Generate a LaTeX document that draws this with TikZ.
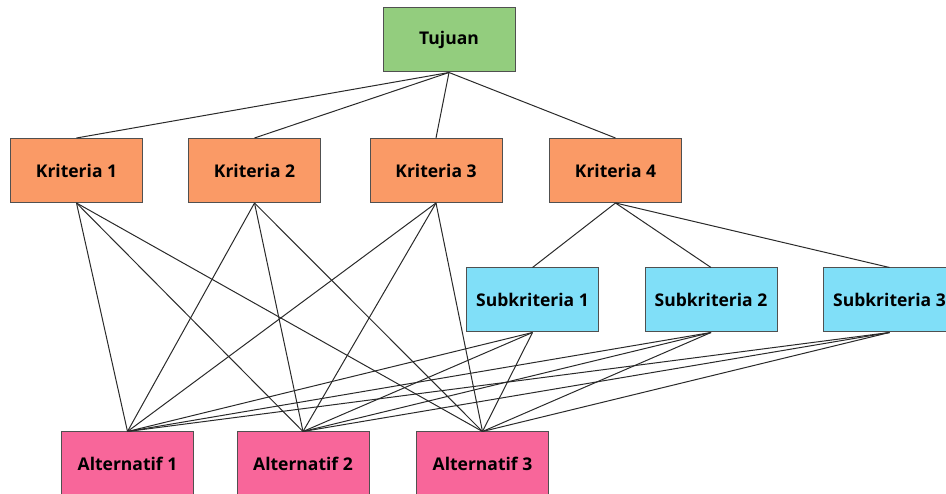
\documentclass[tikz,border=0pt]{standalone}
\usepackage{fontspec}
\setmainfont{Open Sans}
\definecolor{gcol}{HTML}{93CD7E}
\definecolor{ocol}{HTML}{FA9A66}
\definecolor{ccol}{HTML}{80DFF8}
\definecolor{pcol}{HTML}{F8669A}
\definecolor{bcol}{HTML}{505050}
\definecolor{lcol}{HTML}{2A2A2A}
\tikzset{
  boxbase/.style={draw=bcol, line width=1pt, rectangle, minimum width=132pt, minimum height=64pt, inner sep=0pt, font=\fontsize{17.5}{20}\selectfont\bfseries, text=black},
  goalbox/.style={boxbase, fill=gcol},
  critbox/.style={boxbase, fill=ocol},
  subbox/.style={boxbase, fill=ccol},
  altbox/.style={boxbase, fill=pcol},
  link/.style={draw=lcol, line width=1pt}
}
\begin{document}
\begin{tikzpicture}[x=1pt,y=-1pt]
\useasboundingbox (0,0) rectangle (946,494);
\begin{scope}
\clip (0,0) rectangle (946,494);
\node[goalbox] (t) at (449,40) {Tujuan};
\node[critbox] (k1) at (76.5,170.5) {Kriteria 1};
\node[critbox] (k2) at (254.5,170.5) {Kriteria 2};
\node[critbox] (k3) at (436,170.5) {Kriteria 3};
\node[critbox] (k4) at (615.5,170.5) {Kriteria 4};
\node[subbox] (s1) at (532.5,300) {Subkriteria 1};
\node[subbox] (s2) at (711,300) {Subkriteria 2};
\node[subbox] (s3) at (889.5,300) {Subkriteria 3};
\node[altbox] (a1) at (127.5,464) {Alternatif 1};
\node[altbox] (a2) at (303,464) {Alternatif 2};
\node[altbox] (a3) at (482.5,464) {Alternatif 3};
\foreach \k in {k1,k2,k3,k4} \draw[link] (t.south) -- (\k.north);
\foreach \s in {s1,s2,s3} \draw[link] (k4.south) -- (\s.north);
\foreach \p in {k1,k2,k3,s1,s2,s3}
  \foreach \a in {a1,a2,a3}
    \draw[link] (\p.south) -- (\a.north);
\end{scope}
\end{tikzpicture}
\end{document}
